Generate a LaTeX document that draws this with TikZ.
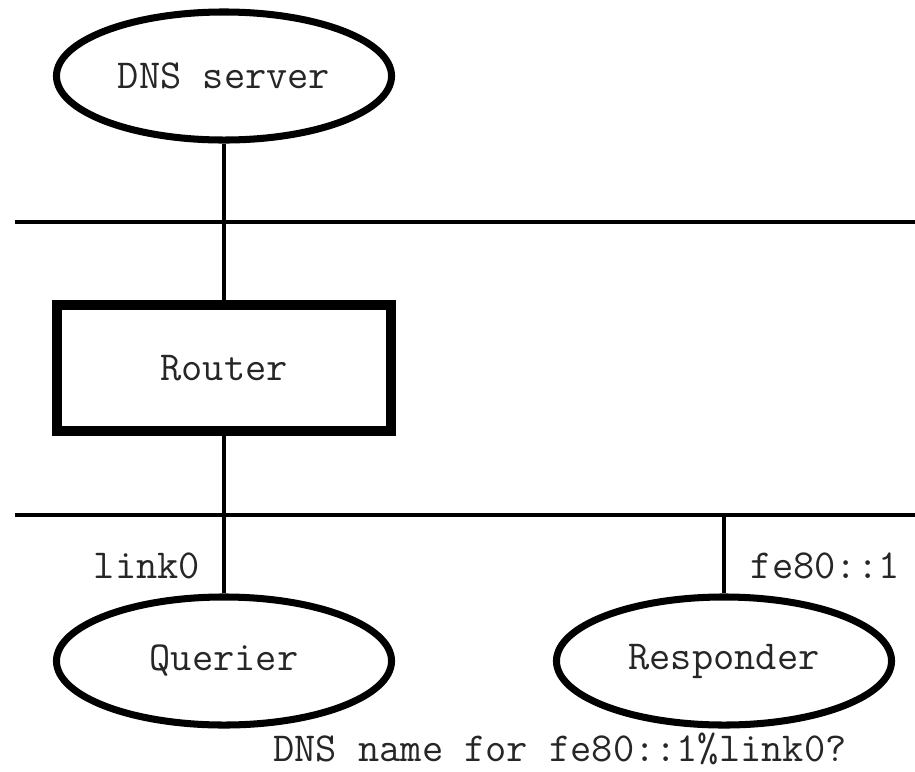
\documentclass[tikz,border=0pt]{standalone}
\usepackage{fontspec}
\usetikzlibrary{shapes.geometric}

\begin{document}
\begin{tikzpicture}[x=0.025cm, y=-0.025cm,
    every node/.style={font=\ttfamily\fontsize{29.3}{34}\selectfont, text=black!85},
    host/.style={ellipse, draw, line width=5pt, minimum width=8.375cm, minimum height=3.2cm, inner sep=0pt},
    box/.style={rectangle, draw, line width=7pt, minimum width=8.35cm, minimum height=3.15cm, inner sep=0pt},
    wire/.style={line width=3pt}]
    \useasboundingbox (0,0) rectangle (915,771);

    \node[host] (dns) at (224,76) {DNS server};
    \node[box] (router) at (224,368) {Router};
    \node[host] (querier) at (224,661) {Querier};
    \node[host] (responder) at (724,661) {Responder};

    % the two links
    \coordinate (l1w) at (15,222);
    \coordinate (l1e) at (915,222);
    \coordinate (l0w) at (15,515);
    \coordinate (l0e) at (915,515);
    \coordinate (tap) at (724,515);
    \draw[wire] (l1w) -- (l1e);
    \draw[wire] (l0w) -- (l0e);

    \draw[wire] (dns) -- (router);
    \draw[wire] (router) -- (querier);
    \draw[wire] (tap) -- (responder);

    \node[anchor=base east] (ifname) at (205,578) {link0};
    \node[anchor=base west] (addr) at (746,578) {fe80::1};
    \node[anchor=base, inner sep=1pt] (query) at (560,761) {DNS name for fe80::1\%link0?};
\end{tikzpicture}
\end{document}
